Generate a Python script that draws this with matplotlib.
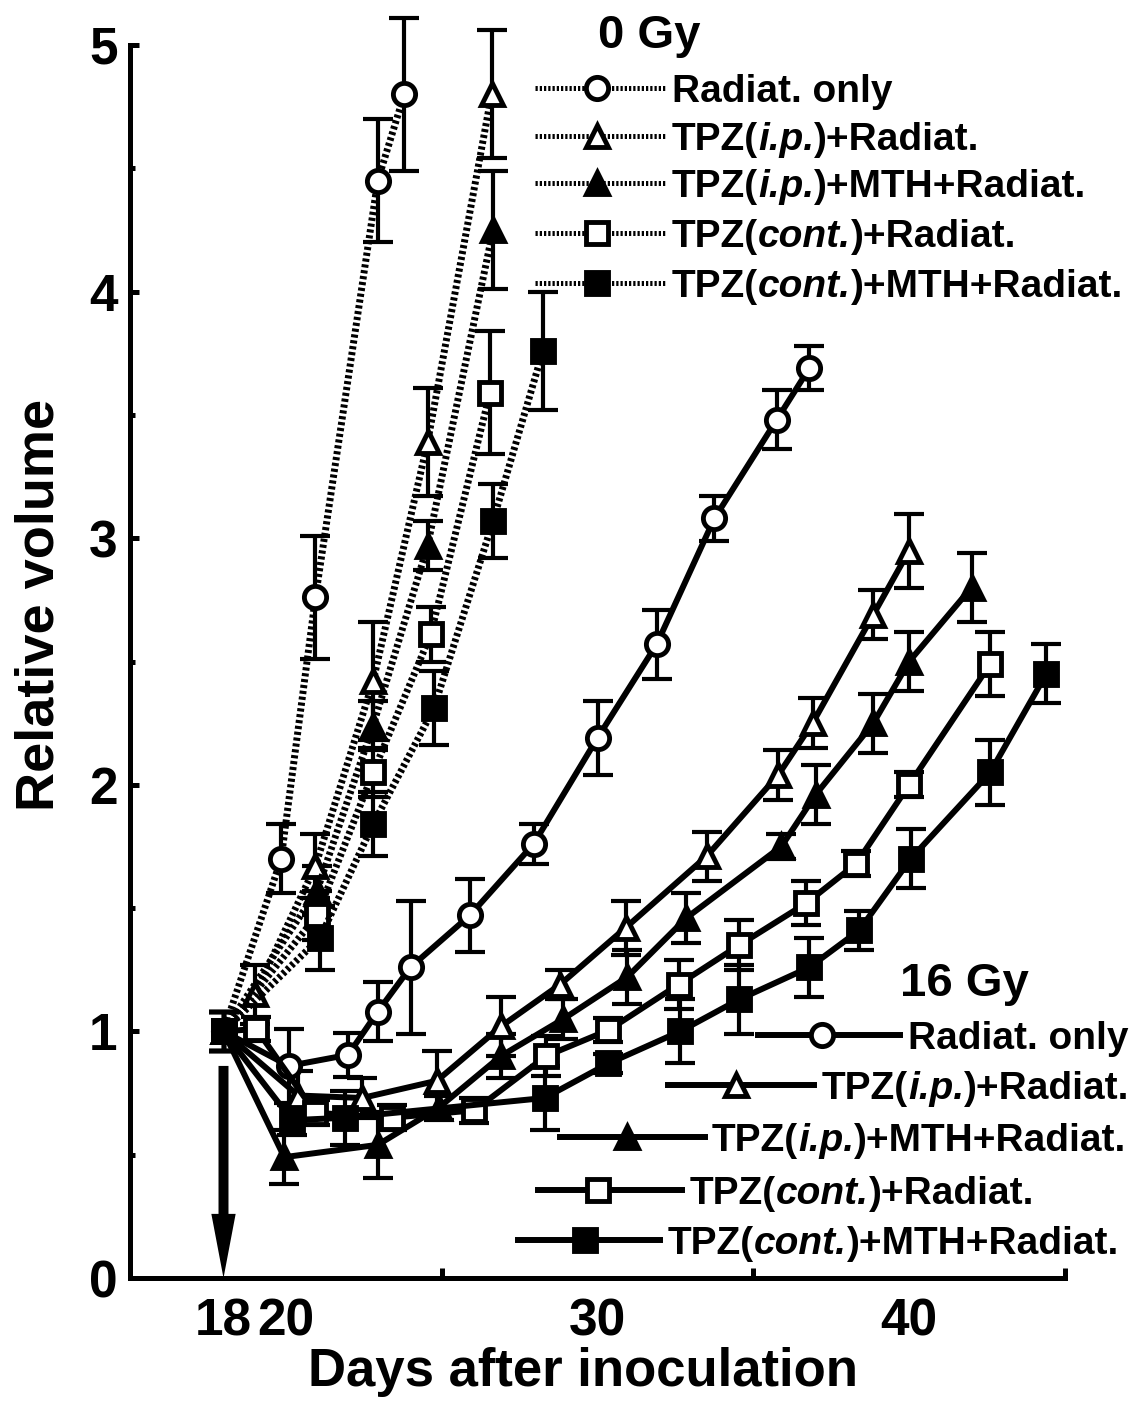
import matplotlib
matplotlib.use('Agg')
import matplotlib.pyplot as plt
from matplotlib.lines import Line2D
from matplotlib.patches import FancyArrow

W, H = 1138, 1403

plt.rcParams['font.family'] = ['Liberation Sans', 'DejaVu Sans']
plt.rcParams['font.weight'] = 'bold'

# ---- 0 Gy (dotted lines) ----
r0_days = [18, 19.85, 20.95, 22.95, 23.8]
r0_vals = [1.0, 1.70, 2.76, 4.45, 4.80]
r0_err = [0.08, 0.14, 0.25, 0.25, 0.31]

t0_days = [18, 19.0, 20.95, 22.8, 24.55, 26.6]
t0_vals = [1.0, 1.15, 1.67, 2.42, 3.39, 4.80]
t0_err = [0.08, 0.12, 0.13, 0.24, 0.22, 0.26]

tm0_days = [18, 21.0, 22.8, 24.55, 26.65]
tm0_vals = [1.0, 1.57, 2.24, 2.97, 4.25]
tm0_err = [0.08, 0.10, 0.10, 0.10, 0.24]

s0_days = [18, 21.0, 22.8, 24.65, 26.55]
s0_vals = [1.0, 1.47, 2.05, 2.61, 3.59]
s0_err = [0.08, 0.10, 0.10, 0.11, 0.25]

sm0_days = [18, 21.1, 22.8, 24.75, 26.65, 28.25]
sm0_vals = [1.0, 1.38, 1.84, 2.31, 3.07, 3.76]
sm0_err = [0.08, 0.13, 0.13, 0.15, 0.15, 0.24]

# ---- 16 Gy (solid lines) ----
r16_days = [18, 20.1, 22.0, 22.95, 24.0, 25.9, 27.95, 30.0, 31.9, 33.75, 35.75, 36.8]
r16_vals = [1.0, 0.86, 0.905, 1.08, 1.26, 1.47, 1.76, 2.19, 2.57, 3.08, 3.48, 3.69]
r16_err = [0.08, 0.15, 0.09, 0.12, 0.27, 0.15, 0.08, 0.15, 0.14, 0.09, 0.12, 0.09]

t16_days = [18, 20.4, 22.45, 24.85, 26.9, 28.8, 30.9, 33.5, 35.8, 36.9, 38.85, 40.0]
t16_vals = [1.0, 0.74, 0.73, 0.80, 1.02, 1.19, 1.42, 1.71, 2.04, 2.25, 2.69, 2.95]
t16_err = [0.08, 0.10, 0.08, 0.12, 0.12, 0.06, 0.11, 0.10, 0.10, 0.10, 0.10, 0.15]

tm16_days = [18, 19.95, 22.95, 24.9, 26.9, 28.9, 30.95, 32.85, 35.9, 37.0, 38.85, 40.0, 42.0]
tm16_vals = [1.0, 0.49, 0.54, 0.69, 0.90, 1.05, 1.22, 1.46, 1.75, 1.96, 2.25, 2.50, 2.80]
tm16_err = [0.08, 0.11, 0.135, 0.05, 0.09, 0.08, 0.11, 0.10, 0.05, 0.12, 0.12, 0.12, 0.14]

s16_days = [18, 19.05, 20.95, 23.4, 26.05, 28.35, 30.35, 32.6, 34.55, 36.7, 38.3, 40.0, 42.6]
s16_vals = [1.0, 1.01, 0.67, 0.65, 0.68, 0.90, 1.005, 1.19, 1.35, 1.52, 1.68, 2.00, 2.49]
s16_err = [0.08, 0.05, 0.05, 0.05, 0.05, 0.08, 0.05, 0.10, 0.10, 0.09, 0.05, 0.05, 0.13]

sm16_days = [18, 20.2, 21.9, 28.3, 30.35, 32.65, 34.55, 36.8, 38.4, 40.05, 42.6, 44.4]
sm16_vals = [1.0, 0.64, 0.65, 0.73, 0.87, 1.0, 1.13, 1.26, 1.41, 1.70, 2.05, 2.45]
sm16_err = [0.08, 0.06, 0.11, 0.13, 0.04, 0.13, 0.14, 0.12, 0.08, 0.12, 0.13, 0.12]

# legend labels as (text, style) pieces so the italic parts keep normal spacing
labels = [[('Radiat. only', 'normal')],
          [('TPZ(', 'normal'), ('i.p.', 'italic'), (')+Radiat.', 'normal')],
          [('TPZ(', 'normal'), ('i.p.', 'italic'), (')+MTH+Radiat.', 'normal')],
          [('TPZ(', 'normal'), ('cont.', 'italic'), (')+Radiat.', 'normal')],
          [('TPZ(', 'normal'), ('cont.', 'italic'), (')+MTH+Radiat.', 'normal')]]
markers = ['o', '^', '^', 's', 's']
faces = ['white', 'white', 'black', 'white', 'black']

series0 = [(r0_days, r0_vals, r0_err), (t0_days, t0_vals, t0_err),
           (tm0_days, tm0_vals, tm0_err), (s0_days, s0_vals, s0_err),
           (sm0_days, sm0_vals, sm0_err)]
series16 = [(r16_days, r16_vals, r16_err), (t16_days, t16_vals, t16_err),
            (tm16_days, tm16_vals, tm16_err), (s16_days, s16_vals, s16_err),
            (sm16_days, sm16_vals, sm16_err)]

DOT = (0, (0.45, 0.4))
MS, MEW = 16, 3.5

fig = plt.figure(figsize=(W / 100, H / 100), dpi=100)
ax = fig.add_axes([130 / W, (H - 1278) / H, (1065 - 130) / W, (1278 - 45) / H])

for (d, v, e), mk, fc in zip(series0, markers, faces):
    eb = ax.errorbar(d, v, yerr=e, fmt='none', ecolor='black', elinewidth=3,
                     capsize=11, capthick=3, zorder=2)
    for a in eb.lines[1] + eb.lines[2]:
        a.set_clip_on(False)
    ax.plot(d, v, color='black', lw=5, ls=DOT, marker=mk, ms=MS, mew=MEW,
            mfc=fc, mec='black', zorder=3, clip_on=False)

for (d, v, e), mk, fc in zip(series16, markers, faces):
    ax.errorbar(d, v, yerr=e, fmt='none', ecolor='black', elinewidth=3,
                capsize=11, capthick=3, zorder=4)
    ax.plot(d, v, color='black', lw=4.3, marker=mk, ms=MS, mew=MEW,
            mfc=fc, mec='black', zorder=5)

# radiation day arrow (vertical, so width is in days and length in volume units)
ax.add_patch(FancyArrow(18, 0.86, 0, -0.86, width=0.32, head_width=0.78,
                        head_length=0.26, length_includes_head=True,
                        color='black', lw=0, zorder=6))

ax.set_xlim(15, 45)
ax.set_ylim(0, 5)
for s in ['top', 'right']:
    ax.spines[s].set_visible(False)
for s in ['left', 'bottom']:
    ax.spines[s].set_linewidth(3.6)

ax.set_xticks([18, 20, 30, 40])
ax.set_xticks([20, 25, 30, 35, 40, 45], minor=True)
ax.set_yticks([0, 1, 2, 3, 4, 5])
ax.set_yticks([0.5, 1.5, 2.5, 3.5, 4.5], minor=True)
ax.tick_params(axis='x', which='major', length=0, pad=14, labelsize=37)
ax.tick_params(axis='x', which='minor', direction='in', length=7, width=3.6)
ax.tick_params(axis='y', which='major', direction='in', length=6.5, width=3.6,
               pad=9, labelsize=37)
ax.tick_params(axis='y', which='minor', direction='in', length=3.6, width=3.6)

fig.text(583 / W, 1 - 1372 / H, 'Days after inoculation', fontsize=38,
         ha='center', va='center')
fig.text(40 / W, 1 - 605 / H, 'Relative volume', fontsize=39, rotation=90,
         ha='center', va='center')


# legends, drawn by hand in figure pixels
def fx(px):
    return px / W


def fy(py):
    return 1 - py / H


renderer = fig.canvas.get_renderer()


def rich_text(x_px, y_px, parts, fs):
    x = fx(x_px)
    for txt, style in parts:
        t = fig.text(x, fy(y_px), txt, fontsize=fs, style=style,
                     ha='left', va='baseline')
        x += t.get_window_extent(renderer).width / W


LEG_FS = 28
fig.text(fx(598), fy(48), '0 Gy', fontsize=34, ha='left', va='baseline')
rows0 = [88, 136, 183, 233, 283]
for y, lab, mk, fc in zip(rows0, labels, markers, faces):
    fig.add_artist(Line2D([fx(535), fx(665)], [fy(y), fy(y)], color='black',
                          lw=3.6, ls=DOT))
    fig.add_artist(Line2D([fx(597)], [fy(y)], marker=mk, ms=MS, mew=MEW,
                          mfc=fc, mec='black', ls='none'))
    rich_text(672, y + 14, lab, LEG_FS)

fig.text(fx(900), fy(996), '16 Gy', fontsize=34, ha='left', va='baseline')
rows16 = [(1035, 758, 900, 822, 908),
          (1085, 668, 814, 736, 822),
          (1137, 560, 705, 627, 712),
          (1190, 538, 682, 598, 690),
          (1240, 518, 660, 585, 668)]
for (y, x0, x1, xm, xt), lab, mk, fc in zip(rows16, labels, markers, faces):
    fig.add_artist(Line2D([fx(x0), fx(x1)], [fy(y), fy(y)], color='black', lw=4.3))
    fig.add_artist(Line2D([fx(xm)], [fy(y)], marker=mk, ms=MS, mew=MEW,
                          mfc=fc, mec='black', ls='none'))
    rich_text(xt, y + 14, lab, LEG_FS)

fig.savefig('out.png', dpi=100)
